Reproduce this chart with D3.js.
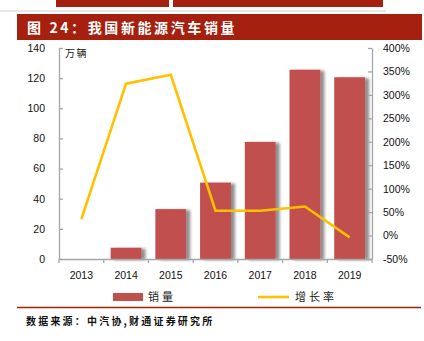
<!DOCTYPE html>
<html>
<head>
<meta charset="utf-8">
<script src="https://cdn.jsdelivr.net/npm/d3@7"></script>
<style>
  html, body { margin: 0; padding: 0; background: #fff; }
  svg { display: block; }
  text { font-family: "Liberation Sans", Arial, sans-serif; }
  .cjk { font-family: "Noto Sans CJK SC", sans-serif; }
</style>
</head>
<body>
<svg id="chart" width="424" height="341"></svg>
<script>
// NEV sales in China (10k units) and year-on-year growth (%)
const years = ["2013", "2014", "2015", "2016", "2017", "2018", "2019"];
const sales = [null, 7.48, 33.1, 50.7, 77.7, 125.6, 120.6];
const growth = [35, 324, 343, 53, 53, 62, -4];
const leftTicks = [0, 20, 40, 60, 80, 100, 120, 140];
const rightTicks = [-50, 0, 50, 100, 150, 200, 250, 300, 350, 400];

const svg = d3.select("#chart");
const RED = "#a5200e";
const BAR = "#c0504d";
const LINE = "#ffc000";
const AXIS = "#a6a6a6";

const plot = { left: 59, right: 372, top: 48, bottom: 259 };

// header strips and title bar
svg.append("rect").attr("x", 56).attr("y", 0).attr("width", 113).attr("height", 7).attr("fill", RED);
svg.append("rect").attr("x", 173).attr("y", 0).attr("width", 210).attr("height", 7).attr("fill", RED);
svg.append("line").attr("x1", 0).attr("x2", 386).attr("y1", 11).attr("y2", 11)
  .attr("stroke", "#cfcfcf").attr("stroke-width", 1.2);
svg.append("rect").attr("x", 17).attr("y", 14).attr("width", 405).attr("height", 26).attr("fill", RED);
svg.append("text").attr("class", "cjk")
  .attr("x", 27).attr("y", 32.5)
  .attr("fill", "#fff").attr("font-size", 14).attr("font-weight", "bold")
  .attr("letter-spacing", 2.6)
  .text("图 24：我国新能源汽车销量");

const x = d3.scaleBand().domain(years).range([plot.left, plot.right]).padding(0);
const yL = d3.scaleLinear().domain([0, 140]).range([plot.bottom, plot.top]);
const yR = d3.scaleLinear().domain([-50, 400]).range([plot.bottom, plot.top]);

// bar shadow
const defs = svg.append("defs");
const f = defs.append("filter").attr("id", "shadow")
  .attr("x", "-20%").attr("y", "-5%").attr("width", "160%").attr("height", "115%");
f.append("feGaussianBlur").attr("in", "SourceAlpha").attr("stdDeviation", 1.8).attr("result", "b");
f.append("feOffset").attr("in", "b").attr("dx", 3.5).attr("dy", 1).attr("result", "o");
f.append("feComponentTransfer").attr("in", "o").attr("result", "s")
  .append("feFuncA").attr("type", "linear").attr("slope", 0.45);
const fm = f.append("feMerge");
fm.append("feMergeNode").attr("in", "s");
fm.append("feMergeNode").attr("in", "SourceGraphic");

const barW = x.bandwidth() * 0.69;
const barData = years.map((yv, i) => ({ year: yv, v: sales[i] })).filter(d => d.v != null);
svg.append("g").attr("filter", "url(#shadow)")
  .selectAll("rect").data(barData).join("rect")
  .attr("x", d => x(d.year) + (x.bandwidth() - barW) / 2)
  .attr("width", barW)
  .attr("y", d => yL(d.v))
  .attr("height", d => yL(0) - yL(d.v))
  .attr("fill", BAR);

// axes
const axisStyle = g => {
  g.select(".domain").attr("stroke", AXIS).attr("stroke-width", 1.3);
  g.selectAll(".tick line").attr("stroke", AXIS).attr("stroke-width", 1.3);
  g.selectAll(".tick text").attr("fill", "#111").attr("font-size", 10.5)
    .attr("font-family", "'Liberation Sans', Arial, sans-serif");
};

svg.append("g").attr("transform", `translate(${plot.left},0)`)
  .call(d3.axisRight(yL).tickValues(leftTicks).tickSize(4).tickSizeOuter(0).tickFormat(d3.format("d")))
  .call(axisStyle)
  .call(g => g.selectAll(".tick text").attr("text-anchor", "end").attr("x", -14));

svg.append("g").attr("transform", `translate(${plot.right},0)`)
  .call(d3.axisLeft(yR).tickValues(rightTicks).tickSize(4).tickSizeOuter(0).tickFormat(d => d + "%"))
  .call(axisStyle)
  .call(g => g.selectAll(".tick text").attr("text-anchor", "start").attr("x", 11));

const xAxis = svg.append("g").attr("transform", `translate(0,${plot.bottom})`)
  .call(d3.axisBottom(x).tickSize(0).tickSizeOuter(0))
  .call(axisStyle)
  .call(g => g.selectAll(".tick text").attr("dy", 0).attr("y", 20));
// category boundary ticks
const bounds = years.map(d => x(d)).concat([plot.right]);
xAxis.selectAll(".bound").data(bounds).join("line").attr("class", "bound")
  .attr("x1", d => d).attr("x2", d => d).attr("y1", 0).attr("y2", 4)
  .attr("stroke", AXIS).attr("stroke-width", 1.3);

// growth line
const line = d3.line()
  .x((d, i) => x(years[i]) + x.bandwidth() / 2)
  .y(d => yR(d));
svg.append("path").datum(growth)
  .attr("d", line).attr("fill", "none")
  .attr("stroke", LINE).attr("stroke-width", 2.6).attr("stroke-linejoin", "miter");

// unit label
svg.append("text").attr("class", "cjk").attr("x", 65).attr("y", 57)
  .attr("font-size", 10).attr("fill", "#222").attr("letter-spacing", 1.5).text("万辆");

// legend
svg.append("rect").attr("x", 113).attr("y", 293).attr("width", 30).attr("height", 8).attr("fill", BAR);
svg.append("text").attr("class", "cjk").attr("x", 148).attr("y", 301)
  .attr("font-size", 11).attr("fill", "#222").attr("letter-spacing", 3).text("销量");
svg.append("line").attr("x1", 258).attr("x2", 289).attr("y1", 297).attr("y2", 297)
  .attr("stroke", LINE).attr("stroke-width", 2.6);
svg.append("text").attr("class", "cjk").attr("x", 295).attr("y", 301)
  .attr("font-size", 11).attr("fill", "#222").attr("letter-spacing", 3).text("增长率");

// footer rule and source
svg.append("line").attr("x1", 17).attr("x2", 421).attr("y1", 307.5).attr("y2", 307.5)
  .attr("stroke", RED).attr("stroke-width", 1.3);
svg.append("text").attr("class", "cjk").attr("x", 26).attr("y", 325)
  .attr("font-size", 10).attr("font-weight", "bold").attr("fill", "#111").attr("letter-spacing", 2.2)
  .text("数据来源：中汽协,财通证券研究所");
</script>
</body>
</html>
